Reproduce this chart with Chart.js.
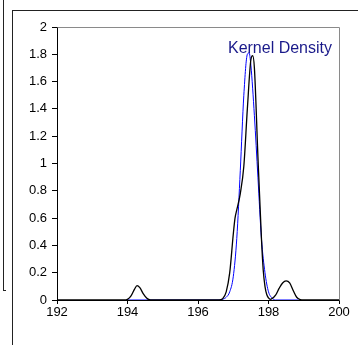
<!DOCTYPE html>
<html>
<head>
<meta charset="utf-8">
<script src="https://cdn.jsdelivr.net/npm/chart.js@4.4.1/dist/chart.umd.min.js"></script>
<style>
  html, body { margin:0; padding:0; background:#fff; }
  #wrap { position:relative; width:358px; height:345px; overflow:hidden; }
  canvas { position:absolute; left:0; top:0; }
  .ln { position:absolute; background:#222; }
</style>
</head>
<body>
<div id="wrap">
  <canvas id="c" width="358" height="345"></canvas>
  <div class="ln" style="left:3px;top:0;width:1px;height:291px;"></div>
  <div class="ln" style="left:3px;top:290px;width:3px;height:1px;"></div>
  <div class="ln" style="left:12px;top:10px;width:1px;height:335px;"></div>
  <div class="ln" style="left:12px;top:10px;width:346px;height:1px;"></div>
</div>
<script>
// ---- data ----
const legendLabel = "Kernel Density";
const xTickLabels = ["192", "194", "196", "198", "200"];
const yTickLabels = ["0", "0.2", "0.4", "0.6", "0.8", "1", "1.2", "1.4", "1.6", "1.8", "2"];

const kernelX = [192, 193.9, 194.0, 194.1, 194.2, 194.27, 194.35, 194.45, 194.55, 194.65,
  196.6, 196.7, 196.8, 196.9, 197.0, 197.05, 197.1, 197.2, 197.3, 197.4, 197.5, 197.55,
  197.6, 197.7, 197.8, 197.85, 197.9, 197.95, 198.0, 198.05, 198.1, 198.2, 198.3, 198.4,
  198.5, 198.6, 198.7, 198.8, 198.9, 199.0, 200];
const kernelY = [0, 0, 0.005, 0.03, 0.08, 0.105, 0.09, 0.045, 0.012, 0,
  0, 0.01, 0.06, 0.2, 0.48, 0.6, 0.66, 0.78, 0.98, 1.4, 1.76, 1.79,
  1.7, 1.05, 0.45, 0.22, 0.1, 0.04, 0.015, 0.005, 0.01, 0.035, 0.085, 0.125,
  0.14, 0.125, 0.07, 0.02, 0.003, 0, 0];

const normalX = [194.0, 196.6, 196.7, 196.8, 196.9, 197.0, 197.1, 197.2, 197.3, 197.4,
  197.45, 197.5, 197.6, 197.7, 197.8, 197.9, 198.0, 198.1, 198.2, 198.85];
const normalY = [0, 0, 0.005, 0.02, 0.06, 0.17, 0.45, 0.95, 1.5, 1.8,
  1.81, 1.72, 1.35, 0.9, 0.45, 0.2, 0.06, 0.015, 0, 0];

const kernelPts = kernelX.map((x, i) => ({ x: x, y: kernelY[i] }));
const normalPts = normalX.map((x, i) => ({ x: x, y: normalY[i] }));

const frameAndLabel = {
  id: 'frameAndLabel',
  beforeDatasetsDraw(chart) {
    const a = chart.chartArea, ctx = chart.ctx;
    ctx.save();
    ctx.strokeStyle = '#8a8a8a';
    ctx.lineWidth = 1;
    ctx.beginPath();
    ctx.moveTo(Math.round(a.left) + 0.5, Math.round(a.top) + 0.5);
    ctx.lineTo(Math.round(a.right) + 0.5, Math.round(a.top) + 0.5);
    ctx.lineTo(Math.round(a.right) + 0.5, Math.round(a.bottom) + 0.5);
    ctx.stroke();
    ctx.restore();
  },
  afterDatasetsDraw(chart) {
    const a = chart.chartArea, ctx = chart.ctx;
    ctx.save();
    ctx.fillStyle = '#1a1a8a';
    ctx.font = '16px "Liberation Sans", Arial, sans-serif';
    ctx.textAlign = 'right';
    ctx.textBaseline = 'alphabetic';
    ctx.fillText(legendLabel, a.right - 7, a.top + 26);
    ctx.restore();
  }
};

new Chart(document.getElementById('c'), {
  type: 'line',
  data: {
    datasets: [
      { label: legendLabel, data: kernelPts, borderColor: '#000000', borderWidth: 1.3,
        pointRadius: 0, fill: false, cubicInterpolationMode: 'monotone', order: 0 },
      { label: 'Normal', data: normalPts, borderColor: '#0000ff', borderWidth: 1,
        pointRadius: 0, fill: false, cubicInterpolationMode: 'monotone', order: 1 }
    ]
  },
  options: {
    responsive: false,
    animation: false,
    events: [],
    layout: { padding: { left: 0, top: 27, right: 19, bottom: 0 } },
    plugins: { legend: { display: false }, tooltip: { enabled: false } },
    scales: {
      x: {
        type: 'linear', min: 192, max: 200,
        afterBuildTicks(s) { s.ticks = xTickLabels.map(v => ({ value: Number(v) })); },
        afterFit(s) { s.height = 45; },
        ticks: { color: '#000', font: { family: '"Liberation Sans", Arial, sans-serif', size: 13 },
                 padding: 1, maxRotation: 0, autoSkip: false,
                 callback: (v, i) => xTickLabels[i] },
        grid: { drawOnChartArea: false, drawTicks: true, tickLength: 4, color: '#000' },
        border: { color: '#000', width: 1 }
      },
      y: {
        type: 'linear', min: 0, max: 2,
        afterBuildTicks(s) { s.ticks = yTickLabels.map(v => ({ value: Number(v) })); },
        afterFit(s) { s.width = 57; },
        ticks: { color: '#000', font: { family: '"Liberation Sans", Arial, sans-serif', size: 13 },
                 padding: 5, autoSkip: false,
                 callback: (v, i) => yTickLabels[i] },
        grid: { drawOnChartArea: false, drawTicks: true, tickLength: 5, color: '#000' },
        border: { color: '#000', width: 1 }
      }
    }
  },
  plugins: [frameAndLabel]
});
</script>
</body>
</html>
